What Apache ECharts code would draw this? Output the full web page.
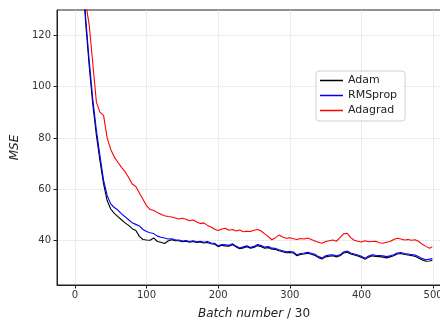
<!DOCTYPE html>
<html>
<head>
<meta charset="utf-8">
<script src="https://cdn.jsdelivr.net/npm/echarts@6/dist/echarts.min.js"></script>
<style>
  html, body { margin: 0; padding: 0; background: #fff; }
  #chart { width: 440px; height: 321px; }
</style>
</head>
<body>
<div id="chart"></div>
<script>
// batch index (/30)
const batches = [
  0, 5, 10, 15, 20, 25, 30, 35, 40, 45,
  50, 55, 60, 65, 70, 75, 80, 85, 90, 95,
  100, 105, 110, 115, 120, 125, 130, 135, 140, 145,
  150, 155, 160, 165, 170, 175, 180, 185, 190, 195,
  200, 205, 210, 215, 220, 225, 230, 235, 240, 245,
  250, 255, 260, 265, 270, 275, 280, 285, 290, 295,
  300, 305, 310, 315, 320, 325, 330, 335, 340, 345,
  350, 355, 360, 365, 370, 375, 380, 385, 390, 395,
  400, 405, 410, 415, 420, 425, 430, 435, 440, 445,
  450, 455, 460, 465, 470, 475, 480, 485, 490, 495,
  499
];

const adam = [
  207, 172, 146, 125, 108, 93, 81, 71, 62, 55.5,
  52.2, 50.5, 49.2, 48.0, 46.8, 45.8, 44.5, 43.8, 41.5, 40.3,
  40.1, 40.0, 40.9, 39.5, 39.2, 38.7, 39.7, 40.2, 39.8, 39.8,
  39.4, 39.6, 39.2, 39.5, 39.1, 39.3, 38.9, 39.1, 38.6, 38.4,
  37.5, 38.0, 37.8, 37.7, 38.2, 37.4, 36.7, 37.0, 37.5, 36.9,
  37.2, 37.9, 37.5, 36.9, 37.1, 36.5, 36.4, 35.9, 35.5, 35.1,
  35.2, 35.0, 33.9, 34.4, 34.6, 34.9, 34.5, 34.0, 33.2, 32.7,
  33.5, 33.8, 33.9, 33.5, 33.9, 35.0, 35.3, 34.6, 34.2, 33.8,
  33.3, 32.6, 33.4, 33.9, 33.7, 33.6, 33.4, 33.1, 33.5, 33.9,
  34.6, 34.8, 34.4, 34.2, 34.0, 33.7, 33.0, 32.3, 31.8, 31.9,
  32.2
];

const rmsprop = [
  210, 176, 149, 127, 110, 95, 83, 73, 63.5, 57.5,
  54.2, 52.8, 51.8, 50.3, 49.2, 48.0, 46.8, 46.2, 45.6, 44.2,
  43.4, 42.9, 42.6, 41.6, 41.2, 40.9, 40.5, 40.6, 40.2, 40.1,
  39.7, 39.9, 39.5, 39.8, 39.4, 39.6, 39.2, 39.5, 38.9, 38.8,
  37.8, 38.3, 38.2, 38.0, 38.6, 37.7, 37.0, 37.4, 37.8, 37.2,
  37.6, 38.3, 37.9, 37.3, 37.5, 36.9, 36.8, 36.3, 35.9, 35.5,
  35.6, 35.4, 34.3, 34.8, 35.0, 35.3, 34.9, 34.5, 33.6, 33.1,
  33.9, 34.2, 34.3, 33.9, 34.3, 35.4, 35.8, 35.0, 34.6, 34.2,
  33.7, 33.0, 33.8, 34.3, 34.1, 34.0, 33.9, 33.6, 33.9, 34.3,
  35.0, 35.2, 34.8, 34.6, 34.4, 34.2, 33.5, 32.8, 32.4, 32.6,
  32.8
];

const adagrad = [
  215, 182, 155, 133, 124, 109, 94, 90, 88.8, 80,
  75.5, 72.5, 70.5, 68.5, 66.8, 64.5, 62, 61, 58.5, 56,
  53.5, 52, 51.6, 50.8, 50.2, 49.6, 49.3, 49.1, 48.7, 48.3,
  48.6, 48.2, 47.6, 47.9, 47.1, 46.5, 46.8, 45.8, 45.2, 44.3,
  43.8, 44.4, 44.7, 43.9, 44.2, 43.6, 44.0, 43.3, 43.5, 43.4,
  43.9, 44.2, 43.6, 42.5, 41.4, 40.2, 41.0, 42.0, 41.3, 40.8,
  41.0, 40.6, 40.3, 40.7, 40.5, 40.9, 40.3, 39.7, 39.2, 38.8,
  39.5, 39.8, 40.1, 39.6, 41.0, 42.5, 42.7, 41.0, 40.0, 39.6,
  39.3, 39.8, 39.4, 39.5, 39.6, 39.0, 38.8, 39.2, 39.5, 40.3,
  40.8, 40.5, 40.1, 40.3, 40.0, 40.2, 39.5, 38.4, 37.6, 36.9,
  37.5
];

const xTicks = [0, 100, 200, 300, 400, 500];
const yTicks = [40, 60, 80, 100, 120];

const chart = echarts.init(document.getElementById('chart'));

function pairs(ys) {
  return batches.map((x, i) => [x, ys[i]]);
}

function lineSeries(name, color, ys) {
  return {
    name: name,
    type: 'line',
    data: pairs(ys),
    showSymbol: false,
    symbol: 'none',
    clip: true,
    lineStyle: { color: color, width: 1.1 },
    itemStyle: { color: color },
    animation: false
  };
}

chart.setOption({
  animation: false,
  textStyle: { fontFamily: 'DejaVu Sans' },
  grid: {
    left: 57, top: 10, width: 394, height: 275,
    outerBoundsMode: 'none',
    containLabel: false,
    show: true, borderColor: '#222', borderWidth: 1
  },
  legend: {
    orient: 'vertical',
    left: 316, top: 71,
    icon: 'rect',
    itemWidth: 23, itemHeight: 1.5, itemGap: 4,
    padding: [4, 8, 5, 4],
    backgroundColor: 'rgba(255,255,255,0.85)',
    borderColor: '#d0d0d0', borderWidth: 1, borderRadius: 3,
    textStyle: { fontSize: 11, color: '#222', fontFamily: 'DejaVu Sans' },
    data: ['Adam', 'RMSprop', 'Adagrad']
  },
  xAxis: {
    type: 'value',
    min: -25, max: 525,
    axisLine: { show: true, onZero: false, lineStyle: { color: '#222' } },
    axisTick: { show: true, customValues: xTicks, length: 3.5, lineStyle: { color: '#222' } },
    axisLabel: { customValues: xTicks, margin: 5, fontSize: 10, color: '#333' },
    splitLine: { show: true, lineStyle: { color: '#cfcfcf', type: 'dotted', width: 0.8 } },
    name: '{i|Batch number} / 30',
    nameLocation: 'middle',
    nameGap: 23,
    nameTextStyle: {
      fontSize: 12, color: '#222',
      rich: { i: { fontStyle: 'italic', fontSize: 12, color: '#222' } }
    }
  },
  yAxis: {
    type: 'value',
    min: 22.5, max: 130,
    axisLine: { show: true, onZero: false, lineStyle: { color: '#222' } },
    axisTick: { show: true, customValues: yTicks, length: 3.5, lineStyle: { color: '#222' } },
    axisLabel: { customValues: yTicks, margin: 6, fontSize: 10, color: '#333' },
    splitLine: { show: true, lineStyle: { color: '#cfcfcf', type: 'dotted', width: 0.8 } },
    name: 'MSE',
    nameLocation: 'middle',
    nameGap: 28,
    nameTextStyle: { fontSize: 12, fontStyle: 'italic', color: '#222' }
  },
  series: [
    lineSeries('Adam', '#000000', adam),
    lineSeries('RMSprop', '#0000ff', rmsprop),
    lineSeries('Adagrad', '#ff0000', adagrad)
  ]
});
</script>
</body>
</html>
